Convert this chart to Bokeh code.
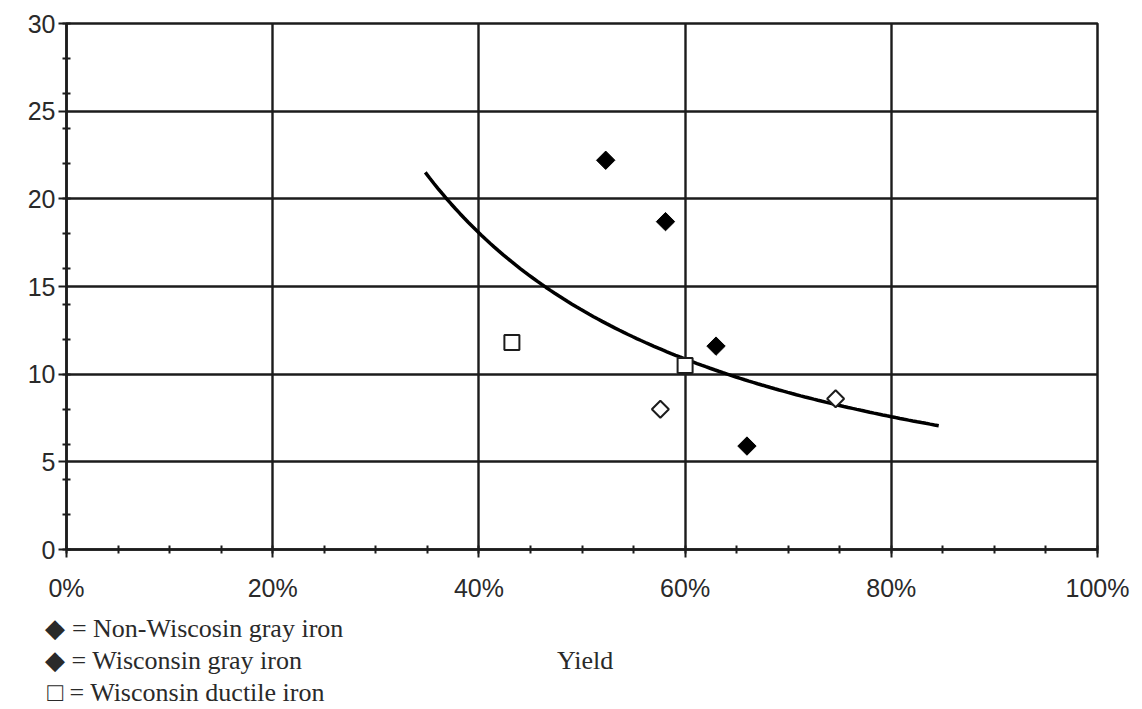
import numpy as np
from bokeh.plotting import figure
from bokeh.models import (Range1d, FixedTicker, NumeralTickFormatter, LinearAxis)
from bokeh.embed import file_html
from bokeh.resources import INLINE

# Measured cupola yield vs. value, by iron type
gray_dark_yield = [0.523, 0.581, 0.630, 0.660]
gray_dark_value = [22.2, 18.7, 11.6, 5.9]

gray_light_yield = [0.576, 0.746]
gray_light_value = [8.0, 8.6]

ductile_yield = [0.432, 0.600]
ductile_value = [11.8, 10.5]

# Extent of the power-law trend line along the yield axis
trend_start = 0.348
trend_end = 0.846

x_ticks = [0.0, 0.2, 0.4, 0.6, 0.8, 1.0]
x_minor = [i * 0.05 for i in range(21)]
y_ticks = [0, 5, 10, 15, 20, 25, 30]
y_minor = list(range(0, 31, 2))

legend_lines = [
    "\u25c6 = Non-Wiscosin gray iron",
    "\u25c6 = Wisconsin gray iron",
    "\u25a1 = Wisconsin ductile iron",
]
x_title = "Yield"

# Power fit y = a * x^b through all points
all_x = np.array(gray_dark_yield + gray_light_yield + ductile_yield)
all_y = np.array(gray_dark_value + gray_light_value + ductile_value)
b, ln_a = np.polyfit(np.log(all_x), np.log(all_y), 1)
trend_x = np.linspace(trend_start, trend_end, 120)
trend_y = np.exp(ln_a) * trend_x ** b

INK = "#1c1c1c"
TXT = "#2a2a2a"
SANS = "Liberation Sans"
SERIF = "Liberation Serif"
W, H = 1142, 709

p = figure(width=W, height=H, output_backend="svg", toolbar_location=None,
           x_range=Range1d(0, 1), y_range=Range1d(0, 30),
           min_border_left=66, min_border_right=45,
           min_border_top=23, min_border_bottom=159)
p.background_fill_color = "white"
p.border_fill_color = "white"
p.outline_line_color = INK
p.outline_line_width = 2.5

for ax, ticks, minor in ((p.xaxis[0], x_ticks, x_minor), (p.yaxis[0], y_ticks, y_minor)):
    ax.ticker = FixedTicker(ticks=ticks, minor_ticks=minor)
    ax.axis_line_color = INK
    ax.axis_line_width = 2.5
    ax.major_tick_line_color = INK
    ax.major_tick_line_width = 2
    ax.major_tick_in = 0
    ax.major_tick_out = 8
    ax.minor_tick_line_color = INK
    ax.minor_tick_line_width = 2
    ax.minor_tick_in = 4
    ax.minor_tick_out = 4
    ax.major_label_text_font = SANS
    ax.major_label_text_font_size = "25px"
    ax.major_label_text_color = TXT

p.xaxis[0].formatter = NumeralTickFormatter(format="0%")
p.xaxis[0].major_label_standoff = 16
p.yaxis[0].major_label_standoff = 3

for g in (p.xgrid[0], p.ygrid[0]):
    g.grid_line_color = INK
    g.grid_line_width = 2.4
    g.grid_line_alpha = 1.0

# Trend line
p.line(trend_x, trend_y, line_color="black", line_width=3.5)

# Points
p.scatter(gray_dark_yield, gray_dark_value, marker="square", angle=np.pi / 4,
          size=13, fill_color="black", line_color="black", line_width=1)
p.scatter(gray_light_yield, gray_light_value, marker="square", angle=np.pi / 4,
          size=12, fill_color="white", line_color=INK, line_width=2)
p.scatter(ductile_yield, ductile_value, marker="square",
          size=15, fill_color="white", line_color=INK, line_width=2)


def text_row(entries, standoff):
    """A bare axis under the plot used as one row of free text."""
    ticks = [pos for pos, _ in entries]
    row = LinearAxis(ticker=FixedTicker(ticks=ticks, minor_ticks=[]),
                     major_label_overrides={pos: txt for pos, txt in entries},
                     axis_line_color=None, major_tick_line_color=None,
                     minor_tick_line_color=None,
                     major_tick_in=0, major_tick_out=0, minor_tick_in=0, minor_tick_out=0,
                     major_label_standoff=standoff,
                     major_label_text_font=SERIF,
                     major_label_text_font_size="26px",
                     major_label_text_color=TXT)
    p.add_layout(row, "below")


# Key rows, with the x-axis title sharing the middle row
text_row([(0.124, legend_lines[0])], 9)
text_row([(0.104, legend_lines[1]), (0.503, x_title)], 0)
text_row([(0.116, legend_lines[2])], 0)

open("out.html", "w").write(file_html(p, INLINE))
